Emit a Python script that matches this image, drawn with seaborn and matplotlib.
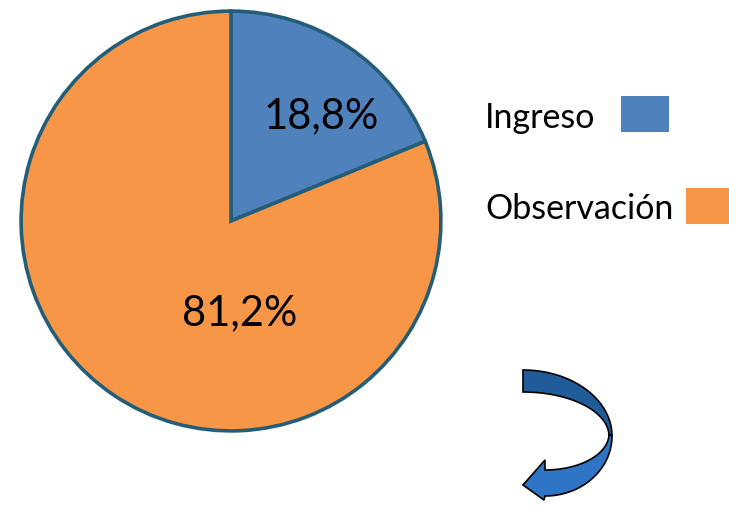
import matplotlib
matplotlib.use("Agg")
import matplotlib.pyplot as plt
import seaborn as sns
import numpy as np
from matplotlib.patches import Rectangle, Polygon

# Share of patients by destination
categories = ["Ingreso", "Observación"]
shares = [18.8, 81.2]
colors = ["#4F81BD", "#F79646"]

sns.set_theme(style="white")
plt.rcParams["font.family"] = ["Lato", "DejaVu Sans"]

W, H = 729, 505
fig = plt.figure(figsize=(W / 100, H / 100), dpi=100)
fig.patch.set_facecolor("white")

# Pie axes placed by pixel geometry
cx, cy, r = 231, 221, 212
ax = fig.add_axes([(cx - r) / W, (H - cy - r) / H, 2 * r / W, 2 * r / H])
wedges, _ = ax.pie(
    shares,
    colors=colors,
    startangle=90,
    counterclock=False,
    radius=1.0,
    wedgeprops=dict(edgecolor="#245D78", linewidth=2.6),
)
ax.set_xlim(-1.01, 1.01)
ax.set_ylim(-1.01, 1.01)
ax.set_aspect("equal")
ax.axis("off")

def fmt(v):
    return f"{v:.1f}".replace(".", ",") + "%"

label_pos = [((322 - cx) / r, (cy - 115) / r), ((240 - cx) / r, (cy - 314) / r)]
for v, (lx, ly) in zip(shares, label_pos):
    ax.text(lx, ly, fmt(v), ha="center", va="center", fontsize=30, color="black")

# Legend: label text followed by colour swatch
def px(x, y):
    return x / W, 1 - y / H

legend_rows = [(128, (621, 96, 48, 36)), (219, (686, 188, 48, 36))]
for name, col, (base_y, (sx, sy, sw, sh)) in zip(categories, colors, legend_rows):
    fig.text(*px(485, base_y), name, ha="left", va="baseline", fontsize=24.5, color="black")
    fig.patches.append(Rectangle(px(sx, sy + sh), sw / W, sh / H,
                                 transform=fig.transFigure, facecolor=col,
                                 edgecolor="none"))

# Curved arrow
def arc(xc, yc, rx, ry, a0, a1, n=40):
    t = np.radians(np.linspace(a0, a1, n))
    return np.column_stack([xc + rx * np.cos(t), yc - ry * np.sin(t)])

top_outer = arc(523, 436, 89, 66, 90, 0)
top_inner = arc(523, 436, 86, 44, 0, 90)
upper = np.vstack([top_outer, top_inner])

low_outer = arc(545, 436, 67, 60, 0, -90)
low_inner = arc(545, 434, 64, 36, -90, 0)
head = np.array([[545, 470], [545, 460], [523, 485], [544, 500], [545, 496]])
lower = np.vstack([low_outer[:-1], [[545, 496]], head[::-1][1:], low_inner[1:]])

def to_fig(pts):
    return np.column_stack([pts[:, 0] / W, 1 - pts[:, 1] / H])

fig.patches.append(Polygon(to_fig(upper), closed=True, transform=fig.transFigure,
                           facecolor="#1F5C99", edgecolor="black", linewidth=1.2))
fig.patches.append(Polygon(to_fig(lower), closed=True, transform=fig.transFigure,
                           facecolor="#2E75C6", edgecolor="black", linewidth=1.2))

fig.savefig("out.png", dpi=100, facecolor="white")
